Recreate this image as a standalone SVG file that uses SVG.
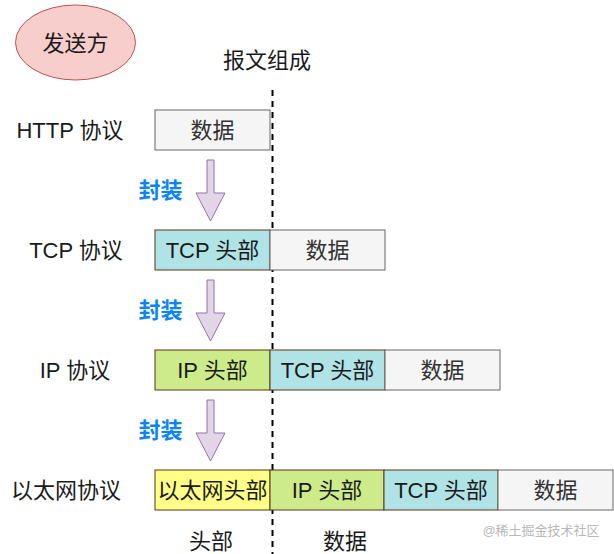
<svg xmlns="http://www.w3.org/2000/svg" width="614" height="554" viewBox="0 0 614 554">
<defs>
<style>
text{font-family:"Liberation Sans","Noto Sans CJK SC",sans-serif;font-size:22px;fill:#1a1a1a;text-anchor:middle;dominant-baseline:central}
.data rect{fill:#f5f5f5;stroke:#666666;stroke-width:1}
.data text{fill:#333333}
.tcp rect{fill:#b0e3e6;stroke:#5a3417;stroke-width:1}
.ip rect{fill:#cdeb8b;stroke:#5a3417;stroke-width:1}
.eth rect{fill:#ffff88;stroke:#5a3417;stroke-width:1}
.arrow{fill:#e1d5e7;stroke:#9673a6;stroke-width:1}
.enc{fill:#0a84ff;font-weight:bold;font-size:22px}
</style>
</defs>
<rect width="614" height="554" fill="#ffffff"/>
<g id="sender">
<ellipse cx="75.5" cy="42.5" rx="60" ry="37.5" fill="#f8cecc" stroke="#b85450" stroke-width="1"/>
<text x="75.5" y="43">发送方</text>
</g>
<g id="title"><text x="267" y="60">报文组成</text></g>
<g id="connectors">
<line x1="272.5" y1="90" x2="272.5" y2="554" stroke="#000" stroke-width="2" stroke-dasharray="6,5"/>
<path class="arrow" d="M207,160 H214 V193 H225 L210.5,221 L196,193 H207 Z"/>
<path class="arrow" d="M207,280 H214 V313 H225 L210.5,341 L196,313 H207 Z"/>
<path class="arrow" d="M207,400 H214 V433 H225 L210.5,461 L196,433 H207 Z"/>
</g>
<g id="enc1"><text class="enc" x="160.5" y="190">封装</text></g>
<g id="enc2"><text class="enc" x="160.5" y="310">封装</text></g>
<g id="enc3"><text class="enc" x="160.5" y="430">封装</text></g>
<g id="lbl-http"><text x="70" y="130">HTTP 协议</text></g>
<g id="lbl-tcp"><text x="76" y="250">TCP 协议</text></g>
<g id="lbl-ip"><text x="75" y="370">IP 协议</text></g>
<g id="lbl-eth"><text x="66" y="490">以太网协议</text></g>
<g id="http-data" class="data"><rect x="155" y="110" width="115" height="40"/><text x="212.5" y="130">数据</text></g>
<g id="tcp-hdr" class="tcp"><rect x="155" y="230" width="115" height="40"/><text x="212.5" y="250">TCP 头部</text></g>
<g id="tcp-data" class="data"><rect x="270" y="230" width="115" height="40"/><text x="327.5" y="250">数据</text></g>
<g id="ip-hdr" class="ip"><rect x="155" y="350" width="115" height="40"/><text x="212.5" y="370">IP 头部</text></g>
<g id="ip-tcp" class="tcp"><rect x="270" y="350" width="115" height="40"/><text x="327.5" y="370">TCP 头部</text></g>
<g id="ip-data" class="data"><rect x="385" y="350" width="115" height="40"/><text x="442.5" y="370">数据</text></g>
<g id="eth-hdr" class="eth"><rect x="155" y="470" width="115" height="40"/><text x="212.5" y="490">以太网头部</text></g>
<g id="eth-ip" class="ip"><rect x="270" y="470" width="114" height="40"/><text x="327" y="490">IP 头部</text></g>
<g id="eth-tcp" class="tcp"><rect x="384" y="470" width="114" height="40"/><text x="441" y="490">TCP 头部</text></g>
<g id="eth-data" class="data"><rect x="498" y="470" width="115" height="40"/><text x="555.5" y="490">数据</text></g>
<g id="lbl-head"><text x="211" y="541">头部</text></g>
<g id="lbl-data"><text x="345" y="541">数据</text></g>
<g id="watermark"><text x="541" y="530" style="font-size:13px;fill:#b8b8b8">@稀土掘金技术社区</text></g>
</svg>
